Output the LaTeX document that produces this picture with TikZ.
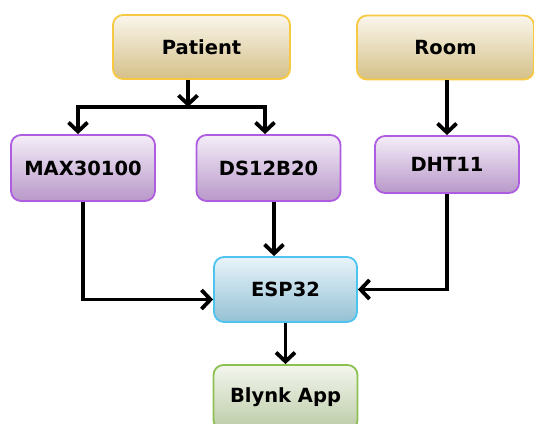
\documentclass[tikz,border=0pt]{standalone}
\usepackage{fontspec}
\setmainfont{DejaVu Sans}
\usepackage{tikz}
\usetikzlibrary{arrows.meta}
\definecolor{tanTop}{HTML}{FAF6EC}
\definecolor{tanBot}{HTML}{D4C088}
\definecolor{tanLine}{HTML}{F7C942}
\definecolor{lilTop}{HTML}{F4EDF8}
\definecolor{lilBot}{HTML}{B898C9}
\definecolor{lilLine}{HTML}{AE5CE0}
\definecolor{bluTop}{HTML}{E8F4FA}
\definecolor{bluBot}{HTML}{94C1D4}
\definecolor{bluLine}{HTML}{4DC3F0}
\definecolor{grnTop}{HTML}{F3F6EE}
\definecolor{grnBot}{HTML}{BCCBA6}
\definecolor{grnLine}{HTML}{8CC152}
\tikzstyle{box}=[rounded corners=10pt,line width=1.8pt,inner sep=0pt,
  font=\fontsize{19.5}{22}\selectfont\bfseries,text=black]
\tikzstyle{source}=[box,draw=tanLine,top color=tanTop,bottom color=tanBot,
  minimum width=177pt,minimum height=64pt]
\tikzstyle{sensor}=[box,draw=lilLine,top color=lilTop,bottom color=lilBot,
  minimum width=144pt,minimum height=66pt]
\tikzstyle{mcu}=[box,draw=bluLine,top color=bluTop,bottom color=bluBot,
  minimum width=143pt,minimum height=65pt]
\tikzstyle{app}=[box,draw=grnLine,top color=grnTop,bottom color=grnBot,
  minimum width=144pt,minimum height=65pt]
\tikzstyle{flow}=[line width=3.8pt,-{Straight Barb[length=9pt,width=19pt]}]

\begin{document}
\begin{tikzpicture}[x=1pt,y=-1pt]
        \useasboundingbox (0,0) rectangle (534,423);
        \node[source] (patient) at (201.5,47) {Patient};
        \node[source] (room) at (445.5,47.5) {Room};
        \node[sensor] (max) at (83,168) {MAX30100};
        \node[sensor] (ds) at (268.5,168) {DS12B20};
        \node[sensor,minimum height=57pt] (dht) at (447,164.5) {DHT11};
        \node[mcu] (esp) at (285.5,289.5) {ESP32};
        \node[app] (blynk) at (285.5,397.5) {Blynk App};
        \coordinate (split) at (188,107);
        \draw[flow] (patient.south -| split) -- (split);
        \draw[flow] (split) -| ([xshift=-5pt]max.north);
        \draw[flow] (split) -| ([xshift=-3.5pt]ds.north);
        \draw[flow] (room.south -| dht.north) -- (dht.north);
        \draw[flow] (max.south) |- ([yshift=-10pt]esp.west);
        \draw[flow] ([xshift=5.5pt]ds.south) -- ([xshift=5.5pt]ds.south |- esp.north);
        \draw[flow] (dht.south) |- (esp.east);
        \draw[flow] (esp.south) -- (blynk.north);
      \end{tikzpicture}
\end{document}
